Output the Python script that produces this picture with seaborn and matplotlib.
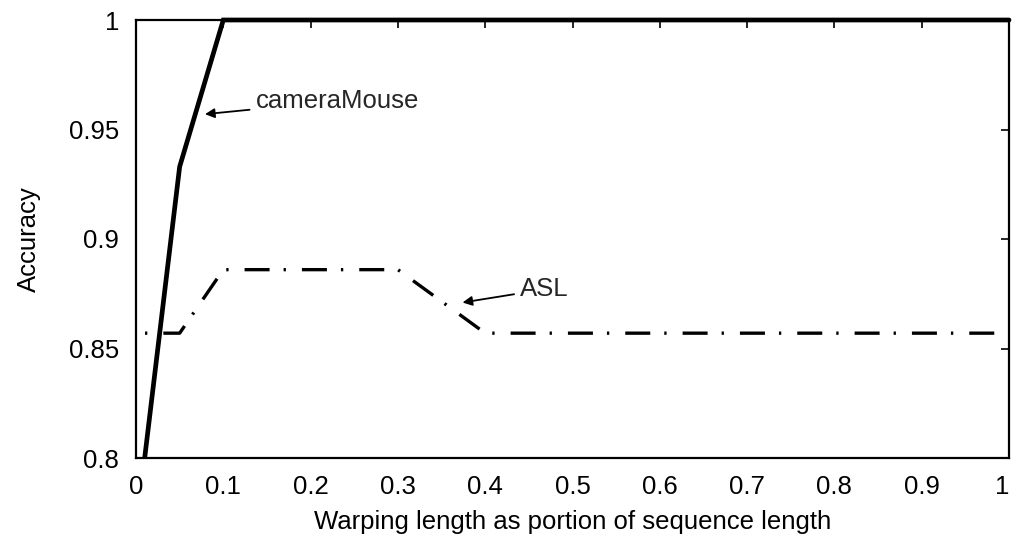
import matplotlib
matplotlib.use("Agg")
import matplotlib.pyplot as plt
import matplotlib.transforms as mtransforms
import seaborn as sns
import pandas as pd

# Data
x_vals = [0.0, 0.05, 0.1, 0.2, 0.3, 0.4, 0.5, 0.6, 0.7, 0.8, 0.9, 1.0]
camera_mouse = [0.767, 0.933, 1.0, 1.0, 1.0, 1.0, 1.0, 1.0, 1.0, 1.0, 1.0, 1.0]
asl = [0.857, 0.857, 0.886, 0.886, 0.886, 0.857, 0.857, 0.857, 0.857, 0.857, 0.857, 0.857]
x_ticks = [0, 0.1, 0.2, 0.3, 0.4, 0.5, 0.6, 0.7, 0.8, 0.9, 1]
x_tick_labels = ["0", "0.1", "0.2", "0.3", "0.4", "0.5", "0.6", "0.7", "0.8", "0.9", "1"]
y_ticks = [0.8, 0.85, 0.9, 0.95, 1.0]
y_tick_labels = ["0.8", "0.85", "0.9", "0.95", "1"]

df_cam = pd.DataFrame({"x": x_vals, "y": camera_mouse})
df_asl = pd.DataFrame({"x": x_vals, "y": asl})

sns.set_theme(style="white")
plt.rcParams["font.family"] = ["Liberation Sans", "DejaVu Sans"]

FS = 18.5
fig = plt.figure(figsize=(10.13, 5.47), dpi=100)
ax = fig.add_axes([136 / 1013, (547 - 458) / 547, (1009 - 136) / 1013, (458 - 20) / 547])

sns.lineplot(data=df_cam, x="x", y="y", ax=ax, color="black", linewidth=3.4,
             solid_joinstyle="miter")
cam_line = ax.get_lines()[-1]
sns.lineplot(data=df_asl, x="x", y="y", ax=ax, color="black", linewidth=2.4,
             linestyle=(9, (7.5, 4.2, 0.7, 4.8)))

# let the top (y=1) part of cameraMouse show full thickness over the spine
clip_bb = mtransforms.TransformedBbox(
    mtransforms.Bbox([[0.0, 0.0], [1.01, 1.02]]), ax.transAxes)
cam_line.set_clip_box(clip_bb)

ax.set_xlim(0, 1)
ax.set_ylim(0.8, 1.0)
ax.set_xticks(x_ticks)
ax.set_xticklabels(x_tick_labels)
ax.set_yticks(y_ticks)
ax.set_yticklabels(y_tick_labels)
ax.tick_params(direction="in", length=6, width=1.2, top=True, right=True,
               labelsize=FS, colors="black", pad=12)
ax.tick_params(axis="x", pad=12)
ax.get_xticklabels()[-1].set_horizontalalignment("right")
for s in ax.spines.values():
    s.set_linewidth(1.6)
    s.set_color("black")
    s.set_visible(True)

ax.set_xlabel("Warping length as portion of sequence length", fontsize=FS, labelpad=8,
              color="black")
ax.set_ylabel("Accuracy", fontsize=FS, labelpad=20, color="black")

ax.annotate("cameraMouse", xy=(0.079, 0.957), xytext=(0.137, 0.963),
            fontsize=FS, va="center", ha="left",
            arrowprops=dict(arrowstyle="-|>", color="black", lw=1.3,
                            mutation_scale=14, shrinkA=2, shrinkB=0))
ax.annotate("ASL", xy=(0.374, 0.871), xytext=(0.44, 0.877),
            fontsize=FS, va="center", ha="left",
            arrowprops=dict(arrowstyle="-|>", color="black", lw=1.3,
                            mutation_scale=14, shrinkA=2, shrinkB=0))

fig.savefig("out.png", dpi=100)
